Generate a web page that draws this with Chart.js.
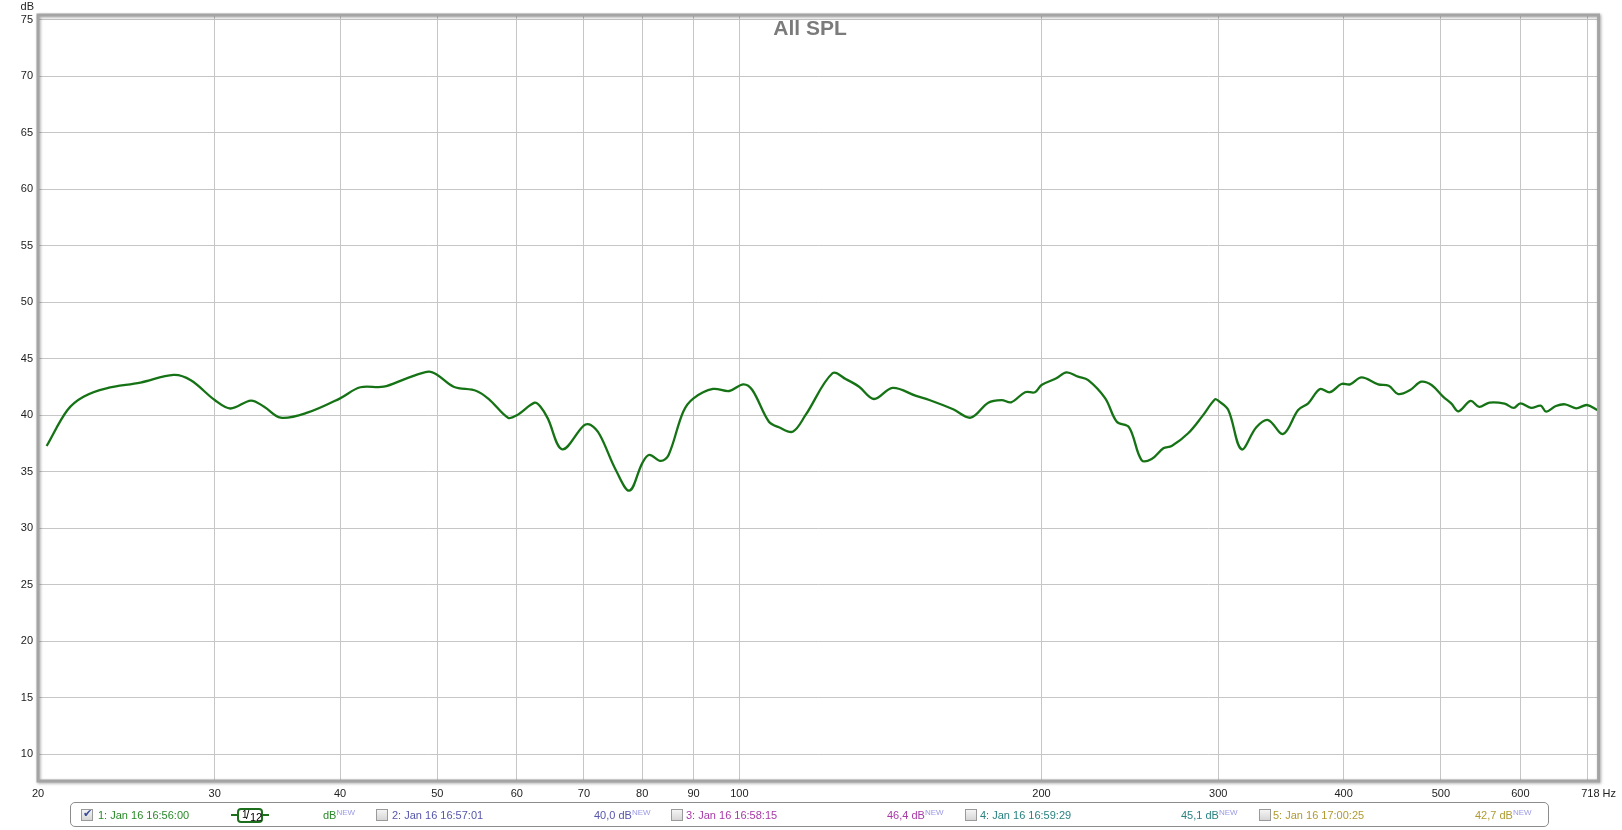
<!DOCTYPE html>
<html lang="en">
<head>
    <meta charset="UTF-8">
    <title>All SPL</title>
    <script src="https://cdn.jsdelivr.net/npm/chart.js"></script>
    <style>
        body { margin: 0; background: #fff; font-family: "Liberation Sans", Arial, sans-serif; }
        .wrap { position: relative; width: 1622px; height: 830px; }
        canvas { position: absolute; left: 0; top: 0; }
        .title { position: absolute; left: 760px; width: 100px; top: 16px; text-align: center;
                 font-weight: bold; font-size: 21px; color: #7b7b7b; }
        .unit { position: absolute; right: 1588px; top: 0px; font-size: 11px; color: #222; }
        .legend { position: absolute; left: 70px; top: 802px; width: 1479px; height: 25px;
                  border: 1px solid #8c8c8c; border-radius: 5px; box-sizing: border-box; font-size: 11px; }
        .legend span { position: absolute; top: 6px; white-space: nowrap; }
        .legend sup { font-size: 8px; color: #9a9ae6; vertical-align: 0; position: relative; top: -4px; }
        .cb { position: absolute; top: 6px; width: 12px; height: 12px; border: 1px solid #9a9a9a;
              background: linear-gradient(#f4f4f4, #d6d6d6); box-sizing: border-box; }
        .cb.on::after { content: "\2714"; position: absolute; left: 1px; top: -3px; font-size: 11px; color: #3a4a9a; }
        .smooth { position: absolute; left: 166px; top: 5px; width: 26px; height: 15px; border: 2px solid #1d6e1d;
                  border-radius: 4px; box-sizing: border-box; color: #000; }
        .smooth span { line-height: 11px; }
        .dash { position: absolute; top: 11px; height: 2px; width: 6px; background: #1d6e1d; }
    </style>
</head>
<body>
<div class="wrap">
    <canvas id="spl" width="1622" height="830"></canvas>
    <div class="title">All SPL</div>
    <div class="unit">dB</div>
    <div class="legend">
        <div class="cb on" style="left:10px"></div>
        <span style="left:27px;color:#2a8a2a">1: Jan 16 16:56:00</span>
        <div class="dash" style="left:160px"></div>
        <div class="smooth"><span style="left:3px;top:-1px;font-size:10px">1</span><span style="left:7px;top:0px;font-size:12px">/</span><span style="left:11px;top:2px;font-size:11px">12</span></div>
        <div class="dash" style="left:192px"></div>
        <span style="left:252px;color:#2a8a2a">dB<sup>NEW</sup></span>
        <div class="cb" style="left:305px"></div>
        <span style="left:321px;color:#5656aa">2: Jan 16 16:57:01</span>
        <span style="left:523px;color:#5656aa">40,0 dB<sup>NEW</sup></span>
        <div class="cb" style="left:600px"></div>
        <span style="left:615px;color:#a83aa8">3: Jan 16 16:58:15</span>
        <span style="left:816px;color:#a83aa8">46,4 dB<sup>NEW</sup></span>
        <div class="cb" style="left:894px"></div>
        <span style="left:909px;color:#2a8282">4: Jan 16 16:59:29</span>
        <span style="left:1110px;color:#2a8282">45,1 dB<sup>NEW</sup></span>
        <div class="cb" style="left:1188px"></div>
        <span style="left:1202px;color:#b09a30">5: Jan 16 17:00:25</span>
        <span style="left:1404px;color:#b09a30">42,7 dB<sup>NEW</sup></span>
    </div>
</div>

<script>
    const freqHz = [20.4, 21.4, 22.2, 23.4, 25.3, 27.3, 28.4, 30, 31.1, 32.6, 33.6, 34.9, 37.1, 40, 41.9, 44.2,
        46.6, 49.0, 50, 51.9, 54.7, 56.4, 58.8, 60, 62.5, 63.3, 64.4, 66.6, 70, 71.1, 72.6, 75.3, 77.7, 80,
        81.3, 83.5, 85, 87.9, 90, 94.1, 97.7, 100.9, 103, 107, 109.5, 113, 116.4, 123.8, 127.7, 131.6, 136.2,
        142.1, 150, 154.6, 163.3, 170, 177, 182.5, 186.5, 192.6, 197, 200, 206.9, 211.8, 217.5, 222.6, 231.5,
        237.7, 244.5, 251.6, 257.5, 264.5, 269.6, 280, 289, 297.8, 300, 307, 316.4, 327.4, 336.4, 348.2,
        360.4, 368.8, 378.9, 387.6, 398, 406, 416.8, 433, 443.6, 453.4, 466, 478, 489.4, 502.5, 512, 520.6,
        535.2, 546, 559, 578.8, 591, 600, 615, 628.8, 636.5, 651, 665, 682, 699, 716];
    const splDb = [37.28, 40.47, 41.65, 42.39, 42.89, 43.57, 43.1, 41.35, 40.6, 41.3, 40.76, 39.79, 40.23, 41.5, 42.48, 42.53,
        43.27, 43.86, 43.57, 42.53, 42.15, 41.35, 39.79, 40.0, 41.12, 40.8, 39.75, 36.99, 39.11, 39.14, 38.26, 35.16, 33.33, 35.75,
        36.49, 35.96, 36.49, 40.32, 41.5, 42.33, 42.15, 42.74, 42.24, 39.43, 38.94, 38.55, 40.03, 43.72, 43.19, 42.53, 41.44,
        42.42, 41.71, 41.35, 40.53, 39.79, 41.12, 41.35, 41.15, 42.04, 42.04, 42.68, 43.27, 43.8, 43.42, 43.12, 41.5,
        39.43, 38.94, 36.04, 36.13, 37.08, 37.28, 38.41, 39.88, 41.42, 41.29, 40.47, 36.99, 38.94, 39.58, 38.35,
        40.47, 41.06, 42.33, 42.04, 42.77, 42.74, 43.36, 42.74, 42.62, 41.88, 42.24, 42.97, 42.68, 41.65, 41.06, 40.35,
        41.27, 40.74, 41.13, 41.03, 40.65, 41.06, 40.65, 40.85, 40.32, 40.82, 40.97, 40.62, 40.91, 40.47];

    const xTicks = [20, 30, 40, 50, 60, 70, 80, 90, 100, 200, 300, 400, 500, 600, 700, 718];
    const xTickLabels = ['20', '30', '40', '50', '60', '70', '80', '90', '100', '200', '300', '400', '500', '600', '', '718 Hz'];
    const yTicks = [10, 15, 20, 25, 30, 35, 40, 45, 50, 55, 60, 65, 70, 75];

    const points = freqHz.map((f, i) => ({x: f, y: splDb[i]}));

    // thick grey frame round the plot, with a soft shadow
    const framePlugin = {
        id: 'frame',
        afterDraw(chart) {
            const a = chart.chartArea;
            const ctx = chart.ctx;
            ctx.save();
            ctx.shadowColor = 'rgba(0,0,0,0.35)';
            ctx.shadowBlur = 3;
            ctx.shadowOffsetX = 1;
            ctx.shadowOffsetY = 1;
            ctx.strokeStyle = '#a4a4a4';
            ctx.lineWidth = 3;
            ctx.strokeRect(a.left, a.top, a.right - a.left, a.bottom - a.top);
            ctx.restore();
        }
    };

    const tickFont = {family: '"Liberation Sans", Arial, sans-serif', size: 11};

    new Chart(document.getElementById('spl').getContext('2d'), {
        type: 'line',
        data: {
            datasets: [{
                label: '1: Jan 16 16:56:00',
                data: points,
                borderColor: '#157315',
                borderWidth: 2.3,
                pointRadius: 0,
                tension: 0.35,
                fill: false
            }]
        },
        options: {
            responsive: false,
            animation: false,
            layout: {padding: {top: 15, right: 20, bottom: 0, left: 0}},
            plugins: {legend: {display: false}, tooltip: {enabled: false}},
            scales: {
                x: {
                    type: 'logarithmic',
                    min: 20,
                    max: 718,
                    afterBuildTicks: s => { s.ticks = xTicks.map(v => ({value: v})); },
                    afterFit: s => { s.height = 49; },
                    grid: {color: '#c6c6c6', drawTicks: false},
                    border: {display: false},
                    ticks: {
                        autoSkip: false,
                        maxRotation: 0,
                        padding: 6,
                        color: '#222',
                        font: tickFont,
                        callback: (v, i) => xTickLabels[i]
                    }
                },
                y: {
                    min: 7.64,
                    max: 75.42,
                    afterBuildTicks: s => { s.ticks = yTicks.map(v => ({value: v})); },
                    afterFit: s => { s.width = 38; },
                    grid: {color: '#c6c6c6', drawTicks: false},
                    border: {display: false},
                    ticks: {padding: 5, color: '#222', font: tickFont}
                }
            }
        },
        plugins: [framePlugin]
    });
</script>
</body>
</html>
